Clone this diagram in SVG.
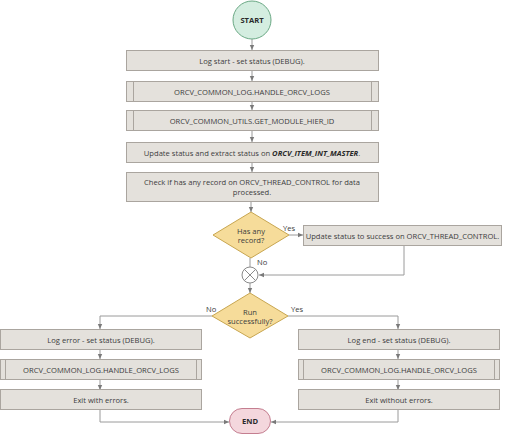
<svg xmlns="http://www.w3.org/2000/svg" width="505" height="435" viewBox="0 0 505 435">
<defs>
<marker id="ah" markerWidth="6" markerHeight="6" refX="5" refY="3" orient="auto" markerUnits="userSpaceOnUse">
<path d="M0,0.8 L5,3 L0,5.2 Z" fill="#7a7a7a"/>
</marker>
<style>
.box{fill:#e4e1dc;stroke:#aaa59f;stroke-width:1}
.sub{fill:none;stroke:#aaa59f;stroke-width:1}
.dia{fill:#f6dc9a;stroke:#c8a650;stroke-width:1}
.t{font-family:"Open Sans","Noto Sans",sans-serif;font-size:7.6px;fill:#3c3c3c;text-anchor:middle;dominant-baseline:central}
.b{font-weight:bold;fill:#2a2a2a}
.c{fill:none;stroke:#9a9a9a;stroke-width:1}
.ca{fill:none;stroke:#9a9a9a;stroke-width:1;marker-end:url(#ah)}
.lbl{font-family:"Open Sans","Noto Sans",sans-serif;font-size:7.6px;fill:#3c3c3c;dominant-baseline:central}
</style>
</defs>
<rect width="505" height="435" fill="#ffffff"/>
<g id="connectors">
<path class="ca" d="M252,39 V50"/>
<path class="ca" d="M252,71 V81"/>
<path class="ca" d="M252,101 V110"/>
<path class="ca" d="M252,131 V142"/>
<path class="ca" d="M252,162 V172"/>
<path class="ca" d="M251,202 V212"/>
<path class="ca" d="M289,235 H303"/>
<path class="ca" d="M404,246 V275 H259"/>
<path class="c" d="M250,258 V267"/>
<path class="ca" d="M250,283 V293"/>
<path class="ca" d="M212,316 H100 V329"/>
<path class="ca" d="M288,316 H398 V329"/>
<path class="ca" d="M100,349 V359"/>
<path class="ca" d="M100,380 V390"/>
<path class="ca" d="M398,349 V359"/>
<path class="ca" d="M398,380 V390"/>
<path class="ca" d="M100,410 V422 H229"/>
<path class="ca" d="M398,410 V422 H271"/>
<text class="lbl" x="283" y="228">Yes</text>
<text class="lbl" x="257" y="262">No</text>
<text class="lbl" x="206" y="309">No</text>
<text class="lbl" x="291" y="309">Yes</text>
</g>
<g id="start">
<circle cx="252" cy="20" r="19" fill="#d4ede0" stroke="#6aa884" stroke-width="1"/>
<text class="t b" x="252" y="20">START</text>
</g>
<g id="log-start">
<rect class="box" x="126.5" y="50.5" width="252" height="20"/>
<text class="t" x="252" y="60.5">Log start - set status (DEBUG).</text>
</g>
<g id="handle-logs-1">
<rect class="box" x="126.5" y="81.5" width="252" height="20"/>
<path class="sub" d="M133.5,81.5 V101.5 M371.5,81.5 V101.5"/>
<text class="t" x="252" y="91.5">ORCV_COMMON_LOG.HANDLE_ORCV_LOGS</text>
</g>
<g id="get-module">
<rect class="box" x="126.5" y="110.5" width="252" height="20"/>
<path class="sub" d="M133.5,110.5 V130.5 M371.5,110.5 V130.5"/>
<text class="t" x="252" y="120.5">ORCV_COMMON_UTILS.GET_MODULE_HIER_ID</text>
</g>
<g id="update-status">
<rect class="box" x="126.5" y="142.5" width="252" height="20"/>
<text class="t" x="252" y="152.5">Update status and extract status on <tspan font-weight="bold" font-style="italic" fill="#2a2a2a">ORCV_ITEM_INT_MASTER</tspan>.</text>
</g>
<g id="check-record">
<rect class="box" x="126.5" y="172.5" width="252" height="29"/>
<text class="t" x="252" y="182">Check if has any record on ORCV_THREAD_CONTROL for data</text>
<text class="t" x="252" y="192">processed.</text>
</g>
<g id="has-record">
<polygon class="dia" points="251,212 289,235 251,258 213,235"/>
<text class="t" x="251" y="231">Has any</text>
<text class="t" x="251" y="240">record?</text>
</g>
<g id="update-success">
<rect class="box" x="303.5" y="225.5" width="198" height="20"/>
<text class="t" x="402.5" y="235.5">Update status to success on ORCV_THREAD_CONTROL.</text>
</g>
<g id="merge">
<circle cx="250" cy="275" r="8" fill="#ffffff" stroke="#8a8a8a" stroke-width="1"/>
<path d="M244.3,269.3 L255.7,280.7 M255.7,269.3 L244.3,280.7" stroke="#8a8a8a" stroke-width="1"/>
</g>
<g id="run-success">
<polygon class="dia" points="250,293 288,316 250,338 212,316"/>
<text class="t" x="250" y="312">Run</text>
<text class="t" x="250" y="321">successfully?</text>
</g>
<g id="log-error">
<rect class="box" x="0.5" y="329.5" width="201" height="20"/>
<text class="t" x="101" y="339.5">Log error - set status (DEBUG).</text>
</g>
<g id="handle-logs-2">
<rect class="box" x="0.5" y="359.5" width="201" height="20"/>
<path class="sub" d="M5.5,359.5 V379.5 M196.5,359.5 V379.5"/>
<text class="t" x="101" y="369.5">ORCV_COMMON_LOG.HANDLE_ORCV_LOGS</text>
</g>
<g id="exit-errors">
<rect class="box" x="0.5" y="389.5" width="201" height="20"/>
<text class="t" x="101" y="399.5">Exit with errors.</text>
</g>
<g id="log-end">
<rect class="box" x="298.5" y="329.5" width="201" height="20"/>
<text class="t" x="399" y="339.5">Log end - set status (DEBUG).</text>
</g>
<g id="handle-logs-3">
<rect class="box" x="298.5" y="359.5" width="201" height="20"/>
<path class="sub" d="M303.5,359.5 V379.5 M494.5,359.5 V379.5"/>
<text class="t" x="399" y="369.5">ORCV_COMMON_LOG.HANDLE_ORCV_LOGS</text>
</g>
<g id="exit-ok">
<rect class="box" x="298.5" y="389.5" width="201" height="20"/>
<text class="t" x="399" y="399.5">Exit without errors.</text>
</g>
<g id="end">
<rect x="229.5" y="408.5" width="41" height="25" rx="12.5" fill="#f4d7dd" stroke="#c47e90" stroke-width="1"/>
<text class="t b" x="250" y="421">END</text>
</g>
</svg>
